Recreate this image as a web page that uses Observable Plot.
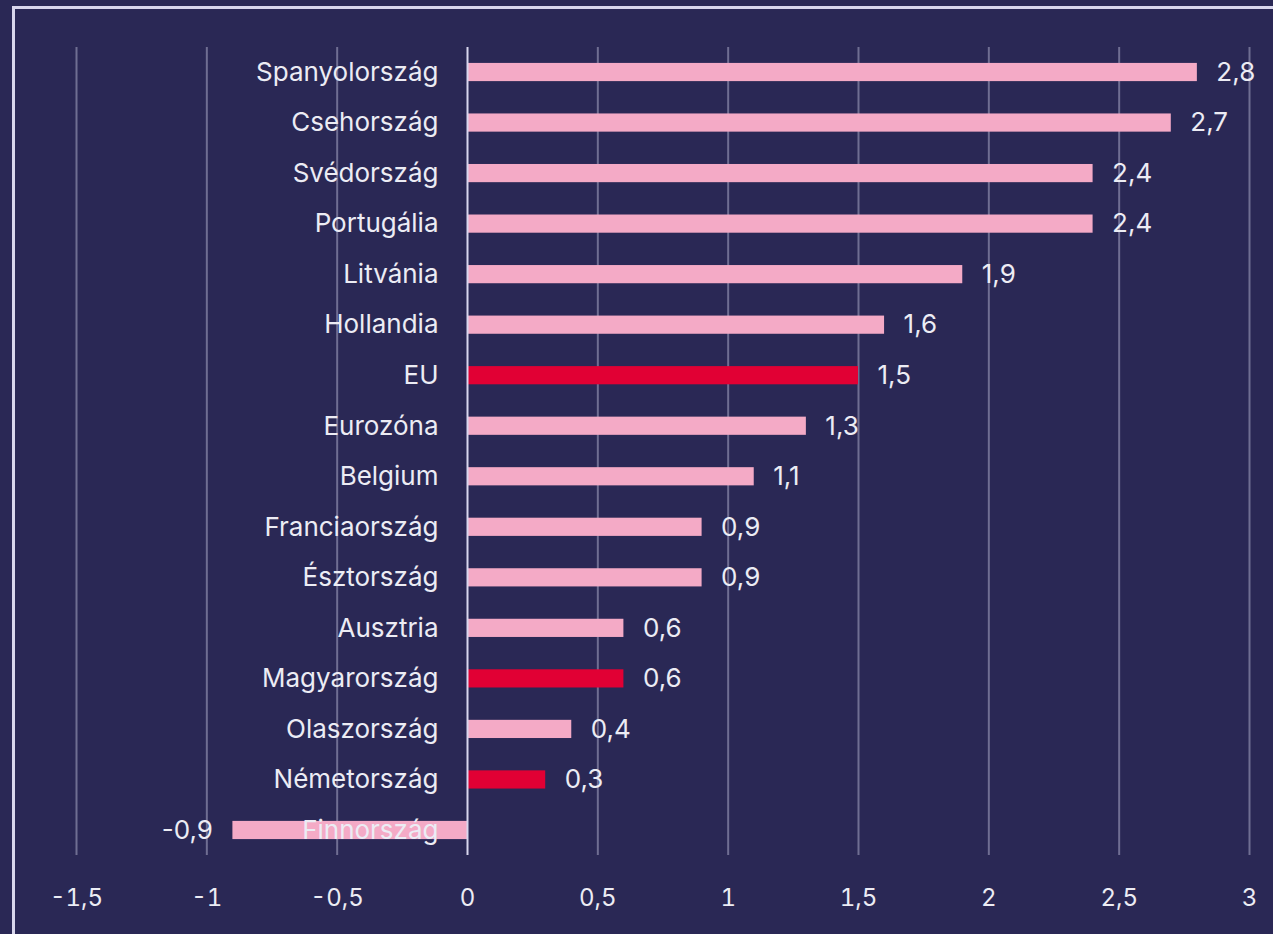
<!DOCTYPE html>
<html><head><meta charset="utf-8">
<script src="https://cdn.jsdelivr.net/npm/d3@7"></script>
<script src="https://cdn.jsdelivr.net/npm/@observablehq/plot@0.6"></script>
<style>
html,body{margin:0;padding:0;background:#2a2855;overflow:hidden;width:1273px;height:934px}
#frame{position:absolute;left:12px;top:6px;width:1400px;height:1100px;border:3px solid #d8d6ec;box-sizing:border-box}
#chart{position:absolute;left:0;top:0}
</style></head><body><div id="frame"></div><div id="chart"></div>
<script>
const countries = ["Spanyolország","Csehország","Svédország","Portugália","Litvánia","Hollandia","EU","Eurozóna","Belgium","Franciaország","Észtország","Ausztria","Magyarország","Olaszország","Németország","Finnország"];
const values = [2.8,2.7,2.4,2.4,1.9,1.6,1.5,1.3,1.1,0.9,0.9,0.6,0.6,0.4,0.3,-0.9];
const highlighted = ["EU","Magyarország","Németország"];
const xTicks = [-1.5,-1,-0.5,0,0.5,1,1.5,2,2.5,3];

const pink = "#f4aac6", red = "#e10034", txt = "#ececf4";
const data = countries.map((c,i)=>({country:c, value:values[i], hi: highlighted.includes(c)}));
const fmt = d => String(d).replace(".", ",");

const plot = Plot.plot({
  width:1273, height:934, marginLeft:76, marginRight:24, marginTop:47, marginBottom:79,
  style:{background:"transparent", color:txt, fontFamily:"Inter", fontSize:"26px"},
  x:{domain:[-1.5,3], label:null},
  y:{domain:countries, paddingInner:0.64, paddingOuter:0.315, round:false, axis:null},
  marks:[
    Plot.gridX(xTicks.filter(d=>d!==0), {stroke:"#6f6e92", strokeOpacity:1, strokeWidth:2}),
    Plot.axisX({ticks:xTicks, tickFormat:fmt, tickSize:0, tickPadding:33, fontSize:24, fill:txt, label:null}),
    Plot.barX(data, {filter:d=>!d.hi, x:"value", y:"country", fill:pink}),
    Plot.barX(data, {filter:d=>d.hi, x:"value", y:"country", fill:red}),
    Plot.ruleX([0], {stroke:"#d8d6ee", strokeWidth:2}),
    Plot.text(data, {x:()=>0, y:"country", text:"country", textAnchor:"end", dx:-29, fill:txt, fontSize:26}),
    Plot.text(data, {filter:d=>d.value>=0, x:"value", y:"country", text:d=>fmt(d.value), textAnchor:"start", dx:19, fill:txt, fontSize:26}),
    Plot.text(data, {filter:d=>d.value<0, x:"value", y:"country", text:d=>fmt(d.value), textAnchor:"end", dx:-20, fill:txt, fontSize:26})
  ]
});
document.getElementById("chart").append(plot);
</script></body></html>
